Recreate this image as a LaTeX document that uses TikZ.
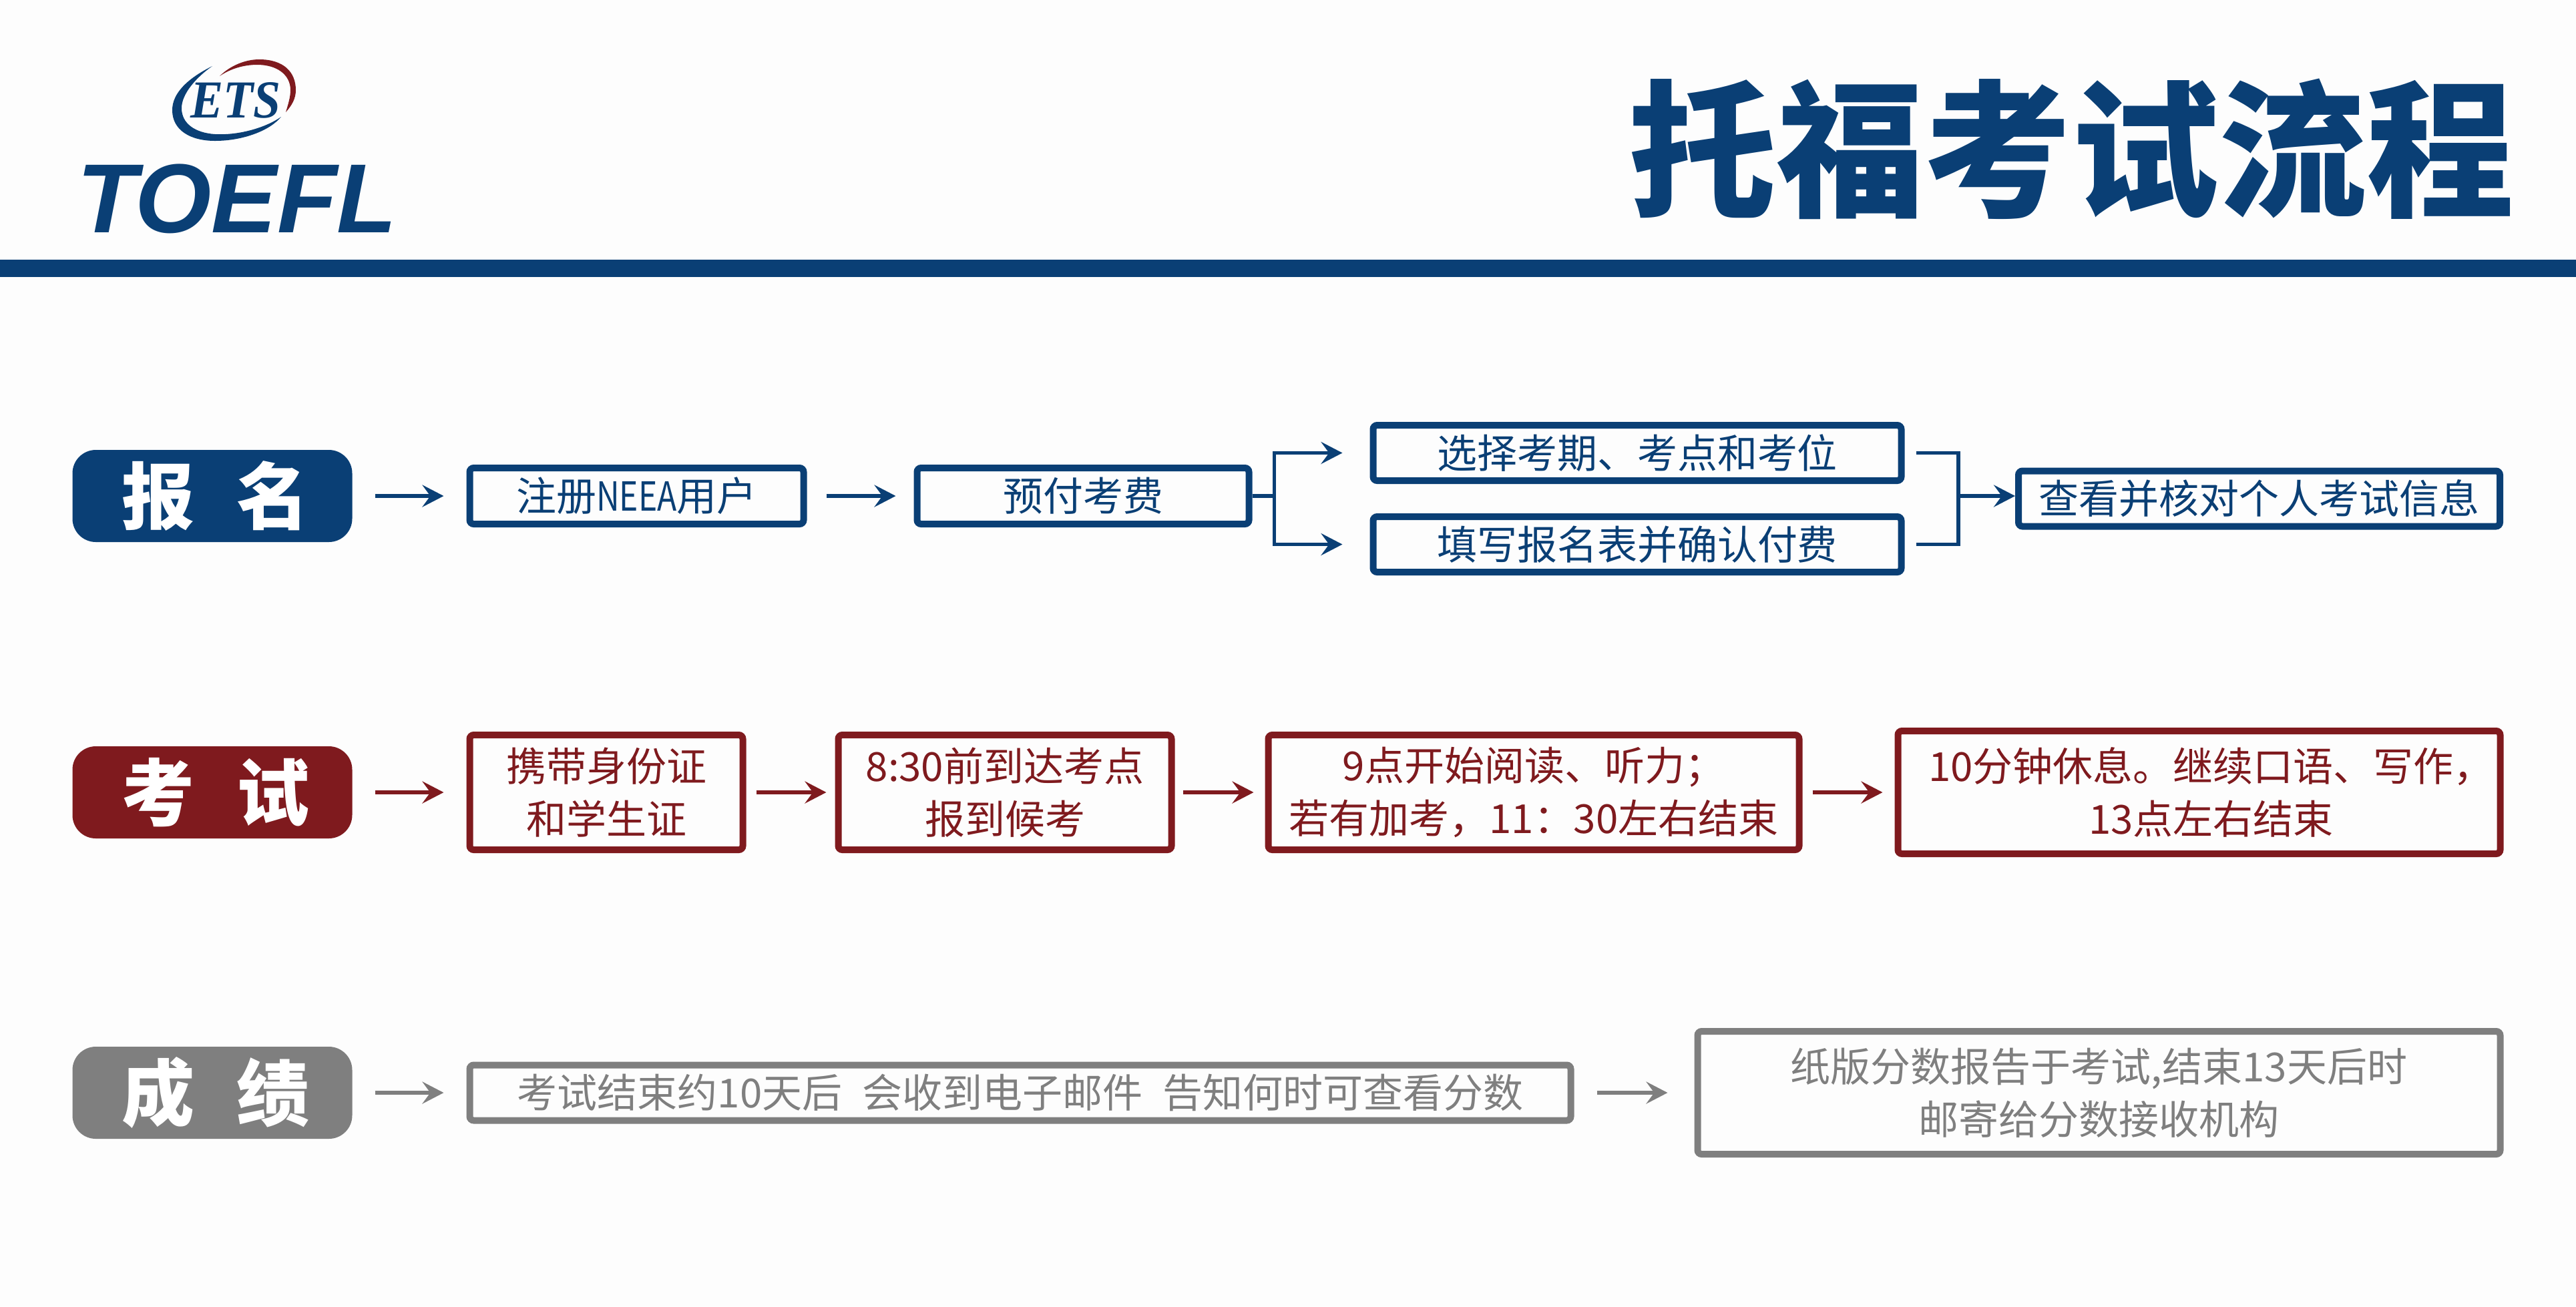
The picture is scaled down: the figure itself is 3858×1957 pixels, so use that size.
\documentclass[tikz,border=0pt]{standalone}
\usepackage{fontspec}
\setmainfont{Noto Sans CJK SC}
\newfontfamily\heavycjk{Noto Sans CJK SC Black}
\newfontfamily\narrowlatin[FakeStretch=0.8]{Noto Sans CJK SC}
\newfontfamily\logosans{Liberation Sans}
\newfontfamily\logoserif[FakeStretch=0.92]{Liberation Serif}
\usetikzlibrary{arrows.meta,positioning}

\definecolor{tfblue}{HTML}{0A3F75}
\definecolor{tfred}{HTML}{7F1A1E}
\definecolor{tfgray}{HTML}{7F7F7F}
\definecolor{tfpage}{HTML}{FDFDFD}

\begin{document}
\begin{tikzpicture}[x=0.1mm,y=-0.1mm,->,>={Stealth[length=3.2mm,width=3.3mm,inset=1.2mm]},line width=.55mm]
  \tikzstyle{flowbox}=[draw,line width=1mm,rounded corners=.6mm,inner sep=0pt,align=center,font=\fontsize{6mm}{7.9mm}\selectfont]
  \tikzstyle{bluebox}=[flowbox,draw=tfblue,text=tfblue]
  \tikzstyle{redbox}=[flowbox,draw=tfred,text=tfred]
  \tikzstyle{graybox}=[flowbox,draw=tfgray,text=tfgray]
  \tikzstyle{pill}=[rounded corners=3.5mm,text=white,minimum width=41.9mm,minimum height=13.8mm,inner sep=0pt,outer sep=0pt,font=\heavycjk\fontsize{10.9mm}{10.9mm}\selectfont]

  \path[use as bounding box,fill=tfpage] (0,0) rectangle (3858,1957);

  \fill[tfblue] (0,389) rectangle (3858,415);
  \fill[tfblue] (318,99) .. controls (280,118) and (258,140) .. (258,165) .. controls (258,195) and (285,211) .. (322,211) .. controls (365,211) and (405,195) .. (421,175) .. controls (400,190) and (360,203) .. (322,201) .. controls (292,199) and (272,185) .. (272,162) .. controls (272,140) and (295,115) .. (318,99) -- cycle;
  \fill[tfred] (329,114) .. controls (345,98) and (368,89) .. (388,89) .. controls (425,89) and (443,108) .. (443,135) .. controls (443,148) and (437,158) .. (428,168) .. controls (432,155) and (435,145) .. (435,135) .. controls (435,112) and (415,97) .. (385,97) .. controls (365,97) and (345,103) .. (329,114) -- cycle;
  \node[text=tfblue,inner sep=0pt,font=\logoserif\bfseries\itshape\fontsize{8mm}{8mm}\selectfont] (etsmark) at (353,150) {ETS};
  \node[text=tfblue,inner sep=0pt,font=\logosans\bfseries\itshape\fontsize{14.7mm}{14.7mm}\selectfont] (toefl) at (355,298) {TOEFL};
  \node[text=tfblue,inner sep=0pt,font=\heavycjk\fontsize{22.1mm}{22.1mm}\selectfont] (heading) at (3102,223) {托福考试流程};

  \node[pill,fill=tfblue] (signpill) at (318,743) {\hspace*{1mm}报\hspace{6.4mm}名};
  \node[bluebox,minimum width=50mm,minimum height=8.4mm,right=17.1mm of signpill] (neea) {注册{\narrowlatin NEEA}用户};
  \node[bluebox,minimum width=49.7mm,minimum height=8.4mm,right=16mm of neea] (prepay) {预付考费};
  \node[bluebox,minimum width=79.1mm,minimum height=8.3mm,right=17.6mm of prepay,yshift=6.45mm] (choose) {选择考期、考点和考位};
  \node[bluebox,minimum width=79.1mm,minimum height=8.3mm,right=17.6mm of prepay,yshift=-7.25mm] (form) {填写报名表并确认付费};
  \node[bluebox,minimum width=72.1mm,minimum height=8.3mm] (verify) at (3383.5,747) {查看并核对个人考试信息};
  \coordinate[right=3.3mm of prepay] (forkin);
  \coordinate (forkout) at (2933,743);

  \node[pill,fill=tfred] (exampill) at (318,1187) {\hspace*{1mm}考\hspace{6.4mm}试};
  \node[redbox,minimum width=40.9mm,minimum height=17.2mm,right=17.1mm of exampill] (carryid) {携带身份证\\和学生证};
  \node[redbox,minimum width=49.9mm,minimum height=17.2mm,right=13.3mm of carryid] (arrive) {8:30前到达考点\\报到候考};
  \node[redbox,minimum width=79.5mm,minimum height=17.2mm,right=13.5mm of arrive] (reading) {9点开始阅读、听力；\\若有加考，11：30左右结束};
  \node[redbox,minimum width=90.2mm,minimum height=18.4mm,right=13.8mm of reading] (speaking) {\hspace*{3.6mm}10分钟休息。继续口语、写作，\\\hspace*{3.6mm}13点左右结束};

  \node[pill,fill=tfgray] (scorepill) at (318,1637) {\hspace*{1mm}成\hspace{6.4mm}绩};
  \node[graybox,minimum width=164.9mm,minimum height=8.3mm,right=17.1mm of scorepill] (email) {考试结束约10天后\hspace{3mm}会收到电子邮件\hspace{3mm}告知何时可查看分数};
  \node[graybox,minimum width=120.2mm,minimum height=18.4mm,right=18mm of email] (paper) {纸版分数报告于考试,结束13天后时\\邮寄给分数接收机构};

  \path[tfblue]
  (signpill) edge[shorten <=3.4mm,shorten >=3.4mm] (neea)
  (neea) edge[shorten <=2.9mm,shorten >=2.7mm] (prepay);
  \draw[tfblue,-] (prepay) -- (forkin);
  \draw[tfblue,shorten >=4.1mm] (forkin) |- (choose);
  \draw[tfblue,shorten >=4.1mm] (forkin) |- (form);
  \draw[tfblue,-,shorten <=1.7mm] (choose) -| (forkout);
  \draw[tfblue,-,shorten <=1.7mm] (form) -| (forkout);
  \draw[tfblue] (forkout) -- (forkout -| verify.west);

  \path[tfred]
  (exampill) edge[shorten <=3.4mm,shorten >=3.4mm] (carryid)
  (carryid) edge[shorten <=1.5mm,shorten >=1.3mm] (arrive)
  (arrive) edge[shorten <=1.2mm,shorten >=1.7mm] (reading)
  (reading) edge[shorten <=1.5mm,shorten >=1.8mm] (speaking);

  \path[tfgray]
  (scorepill) edge[shorten <=3.4mm,shorten >=3.4mm] (email)
  (email) edge[shorten <=3.4mm,shorten >=4mm] (paper);
\end{tikzpicture}
\end{document}
